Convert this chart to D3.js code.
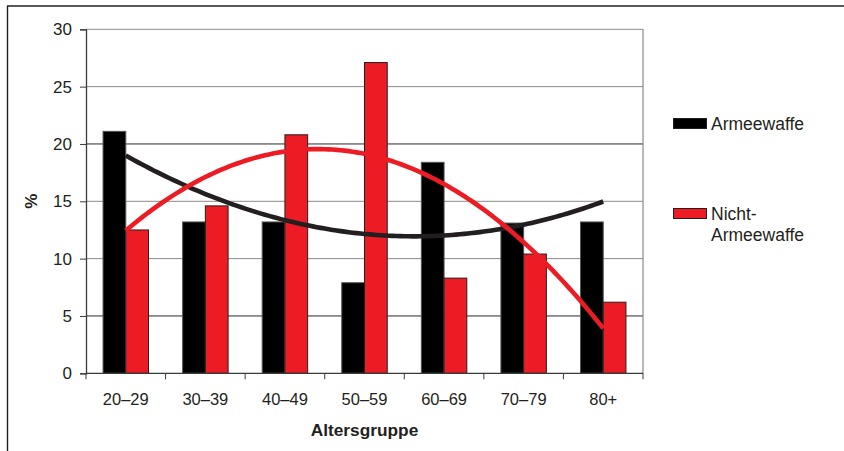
<!DOCTYPE html>
<html>
<head>
<meta charset="utf-8">
<script src="https://cdn.jsdelivr.net/npm/d3@7"></script>
<style>
  html, body { margin: 0; padding: 0; background: #fff; }
  svg { display: block; font-family: "Liberation Sans", Arial, Helvetica, sans-serif; }
</style>
</head>
<body>
<svg id="chart" width="844" height="451"></svg>
<script>
// Age groups and the share (%) of each group per weapon type
const categories = ["20–29", "30–39", "40–49", "50–59", "60–69", "70–79", "80+"];
const seriesNames = ["Armeewaffe", "Nicht-Armeewaffe"];
const armeewaffe = [21.1, 13.2, 13.2, 7.9, 18.4, 13.1, 13.2];
const nichtArmeewaffe = [12.5, 14.6, 20.8, 27.1, 8.3, 10.4, 6.2];
const yTicks = [0, 5, 10, 15, 20, 25, 30];
const colors = ["#000000", "#ed1c24"];
const strokeColors = ["#555555", "#231f20"];
const trendColors = ["#231f20", "#ed1c24"];

const series = [armeewaffe, nichtArmeewaffe];

const svg = d3.select("#chart");

// outer frame (top and left edges)
svg.append("line").attr("x1", 7).attr("x2", 844).attr("y1", 6).attr("y2", 6)
  .attr("stroke", "#231f20").attr("stroke-width", 1.4);
svg.append("line").attr("x1", 7.5).attr("x2", 7.5).attr("y1", 6).attr("y2", 451)
  .attr("stroke", "#231f20").attr("stroke-width", 1.4);

const plot = { left: 86, right: 643, top: 29.3, bottom: 373.3 };

const x = d3.scaleBand().domain(categories).range([plot.left, plot.right]).padding(0);
const xInner = d3.scaleBand().domain(seriesNames).range([0, x.bandwidth()])
  .paddingInner(0).paddingOuter(0.75);
const y = d3.scaleLinear().domain([0, 30]).range([plot.bottom, plot.top]);

// horizontal grid lines
const darkLines = new Set([20, 5]);
svg.append("g").selectAll("line").data(yTicks.filter(d => d > 0)).join("line")
  .attr("x1", plot.left).attr("x2", plot.right)
  .attr("y1", d => y(d)).attr("y2", d => y(d))
  .attr("stroke", d => darkLines.has(d) ? "#2a2a2a" : "#8a8a8a")
  .attr("stroke-width", 1);

// plot area right border
svg.append("line").attr("x1", plot.right).attr("x2", plot.right)
  .attr("y1", plot.top).attr("y2", plot.bottom)
  .attr("stroke", "#8a8a8a").attr("stroke-width", 1.2);

// bars
const groups = svg.append("g").selectAll("g").data(categories).join("g")
  .attr("transform", d => `translate(${x(d)},0)`);
groups.selectAll("rect")
  .data((d, i) => seriesNames.map((s, k) => ({ s, k, v: series[k][i] })))
  .join("rect")
  .attr("x", d => xInner(d.s))
  .attr("width", xInner.bandwidth())
  .attr("y", d => y(d.v))
  .attr("height", d => y(0) - y(d.v))
  .attr("fill", d => colors[d.k])
  .attr("stroke", d => strokeColors[d.k])
  .attr("stroke-width", 1);

// y axis
const yAxis = svg.append("g").attr("transform", `translate(${plot.left},0)`)
  .call(d3.axisLeft(y).tickValues(yTicks).tickSize(6).tickPadding(8));
yAxis.select(".domain").attr("stroke", "#3a3a3a").attr("stroke-width", 1.3);
yAxis.selectAll(".tick line").attr("stroke", "#3a3a3a");
yAxis.selectAll("text").attr("font-size", 17).attr("fill", "#231f20")
  .attr("font-family", "Liberation Sans, Arial, sans-serif");

// x axis (ticks at group boundaries)
const xAxisG = svg.append("g").attr("transform", `translate(0,${plot.bottom})`);
xAxisG.append("line").attr("x1", plot.left).attr("x2", plot.right)
  .attr("stroke", "#3a3a3a").attr("stroke-width", 1.3);
const boundaries = categories.map(c => x(c)).concat([x(categories[categories.length - 1]) + x.bandwidth()]);
xAxisG.selectAll(".bt").data(boundaries).join("line").attr("class", "bt")
  .attr("x1", d => d).attr("x2", d => d).attr("y1", 0).attr("y2", 6)
  .attr("stroke", "#3a3a3a").attr("stroke-width", 1);
xAxisG.selectAll("text").data(categories).join("text")
  .attr("x", d => x(d) + x.bandwidth() / 2)
  .attr("y", 31.5)
  .attr("text-anchor", "middle")
  .attr("font-size", 16.5)
  .attr("fill", "#231f20")
  .text(d => d);

// axis titles
svg.append("text")
  .attr("x", (plot.left + plot.right) / 2).attr("y", 436)
  .attr("text-anchor", "middle").attr("font-size", 17.3).attr("font-weight", "bold")
  .attr("fill", "#231f20").text("Altersgruppe");
svg.append("text")
  .attr("transform", `translate(37,${(plot.top + plot.bottom) / 2}) rotate(-90)`)
  .attr("text-anchor", "middle").attr("font-size", 17).attr("font-weight", "bold")
  .attr("fill", "#231f20").text("%");

// second-order polynomial trend line (least squares) for each series
function quadFit(vals) {
  const n = vals.length;
  const xs = vals.map((_, i) => i + 1);
  const m = d3.mean(xs);
  const u = xs.map(v => v - m);
  const su2 = d3.sum(u, v => v * v);
  const su4 = d3.sum(u, v => v ** 4);
  const sy = d3.sum(vals);
  const suy = d3.sum(vals, (v, i) => u[i] * v);
  const su2y = d3.sum(vals, (v, i) => u[i] * u[i] * v);
  const b = suy / su2;
  const c = (su2y - su2 * sy / n) / (su4 - su2 * su2 / n);
  const a = (sy - c * su2) / n;
  return t => a + b * (t - m) + c * (t - m) * (t - m);
}

const step = x.step();
const xCenter = t => plot.left + (t - 0.5) * step;
const line = d3.line().x(d => xCenter(d[0])).y(d => y(d[1])).curve(d3.curveLinear);

series.forEach((vals, k) => {
  const f = quadFit(vals);
  const pts = d3.range(1, vals.length + 0.0001, 0.05).map(t => [t, f(t)]);
  svg.append("path").datum(pts)
    .attr("d", line)
    .attr("fill", "none")
    .attr("stroke", trendColors[k])
    .attr("stroke-width", 4.6)
    .attr("stroke-linecap", "butt");
});

// legend
const legend = svg.append("g");
const legendItems = [
  { k: 0, y: 118.5, lines: ["Armeewaffe"] },
  { k: 1, y: 208.5, lines: ["Nicht-", "Armeewaffe"] }
];
legendItems.forEach(item => {
  legend.append("rect")
    .attr("x", 673.5).attr("y", item.y).attr("width", 33).attr("height", 10)
    .attr("fill", colors[item.k]).attr("stroke", "#231f20").attr("stroke-width", 1);
  const t = legend.append("text").attr("x", 711).attr("y", item.y + 11.5)
    .attr("font-size", 17.5).attr("fill", "#231f20");
  item.lines.forEach((ln, j) => {
    t.append("tspan").attr("x", 711).attr("dy", j === 0 ? 0 : 21).text(ln);
  });
});
</script>
</body>
</html>
